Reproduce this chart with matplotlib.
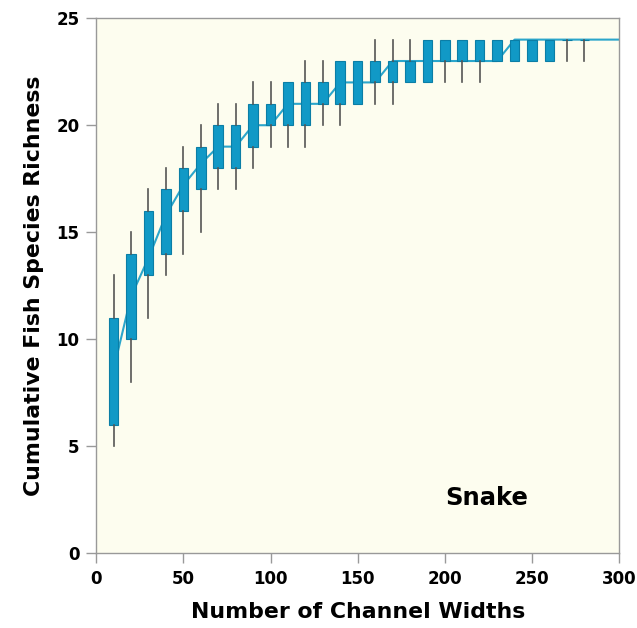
import matplotlib
matplotlib.use("Agg")
import matplotlib.pyplot as plt

# channel widths sampled (box positions)
widths = [10, 20, 30, 40, 50, 60, 70, 80, 90, 100, 110, 120, 130, 140,
          150, 160, 170, 180, 190, 200, 210, 220, 230, 240, 250, 260, 270, 280]
whisker_low = [5, 8, 11, 13, 14, 15, 17, 17, 18, 19, 19, 19, 20, 20,
               21, 21, 21, 22, 22, 22, 22, 22, 23, 23, 23, 23, 23, 23]
quart_low = [6, 10, 13, 14, 16, 17, 18, 18, 19, 20, 20, 20, 21, 21,
             21, 22, 22, 22, 22, 23, 23, 23, 23, 23, 23, 23, 24, 24]
quart_high = [11, 14, 16, 17, 18, 19, 20, 20, 21, 21, 22, 22, 22, 23,
              23, 23, 23, 23, 24, 24, 24, 24, 24, 24, 24, 24, 24, 24]
whisker_high = [13, 15, 17, 18, 19, 20, 21, 21, 22, 22, 22, 23, 23, 23,
                23, 24, 24, 24, 24, 24, 24, 24, 24, 24, 24, 24, 24, 24]

# mean accumulation curve
curve_x = [10, 20, 30, 40, 50, 60, 70, 80, 90, 100, 110, 120, 130, 140, 150,
           160, 170, 180, 190, 200, 210, 220, 230, 240, 250, 260, 270, 280, 290, 300]
curve_y = [8.6, 12.0, 13.8, 15.8, 17.2, 18.2, 19, 19, 20, 20, 21, 21, 21, 22, 22,
           22, 23, 23, 23, 23, 23, 23, 23, 24, 24, 24, 24, 24, 24, 24]

plt.rcParams["font.family"] = ["DejaVu Sans"]
plt.rcParams["font.weight"] = "bold"

fig = plt.figure(figsize=(6.37, 6.28), dpi=100)
ax = fig.add_axes([0.151, 0.119, 0.821, 0.852])
ax.set_facecolor("#FDFDEF")

stats = []
for lo, q1, q3, hi in zip(whisker_low, quart_low, quart_high, whisker_high):
    stats.append({"whislo": lo, "q1": q1, "med": q1, "q3": q3, "whishi": hi})

ax.plot(curve_x, curve_y, color="#2BA6CB", lw=1.5, zorder=1)
ax.bxp(stats, positions=widths, widths=5.5, patch_artist=True,
       showfliers=False, showcaps=False,
       boxprops=dict(facecolor="#1199C6", edgecolor="#0B7EA6", linewidth=0.8),
       whiskerprops=dict(color="#555555", linewidth=1.2),
       medianprops=dict(linewidth=0),
       manage_ticks=False, zorder=2)

ax.set_xlim(0, 300)
ax.set_ylim(0, 25)
ax.set_xticks([0, 50, 100, 150, 200, 250, 300])
ax.set_yticks([0, 5, 10, 15, 20, 25])

for sp in ax.spines.values():
    sp.set_color("#999999")
    sp.set_linewidth(1.0)
ax.tick_params(direction="out", length=7, width=1, color="#999999",
               labelsize=12, pad=5)

ax.set_xlabel("Number of Channel Widths", fontsize=15.8, fontweight="bold", labelpad=10)
ax.set_ylabel("Cumulative Fish Species Richness", fontsize=15.8, fontweight="bold", labelpad=9)
ax.text(224, 2.6, "Snake", fontsize=17.5, fontweight="bold", ha="center", va="center")

fig.savefig("out.png", dpi=100)
